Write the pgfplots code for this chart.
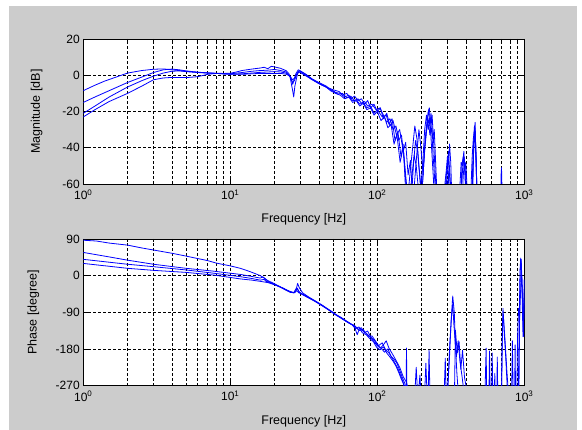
\documentclass[border=0pt]{standalone}
\usepackage{fontspec}
\setmainfont{Liberation Sans}
\usepackage{pgfplots}
\pgfplotsset{compat=1.18}
\definecolor{figgray}{RGB}{204,204,204}
\definecolor{mblue}{RGB}{0,0,255}
\pgfplotsset{
  bodestyle/.style={
    scale only axis, width=441pt,
    xmin=1, xmax=1000,
    xtick={1,10,100,1000},
    xticklabels={10\textsuperscript{0},10\textsuperscript{1},10\textsuperscript{2},10\textsuperscript{3}},
    minor xtick={2,3,4,5,6,7,8,9,20,30,40,50,60,70,80,90,200,300,400,500,600,700,800,900},
    axis background/.style={fill=white},
    axis line style={black, line width=0.6pt},
    tick align=inside, xtick pos=both, ytick pos=both,
    major tick length=5pt, minor tick length=3pt,
    tick style={black, line width=0.5pt},
    xmajorgrids=true, xminorgrids=true, ymajorgrids=true,
    major grid style={black, line width=0.5pt, dash pattern=on 2.5pt off 2.5pt},
    minor grid style={black, line width=0.5pt, dash pattern=on 2.5pt off 2.5pt},
    ticklabel style={font=\fontsize{12}{14}\selectfont, text=black},
    xticklabel style={yshift=-2pt},
    label style={font=\fontsize{12.5}{14}\selectfont, text=black},
    xlabel={Frequency [Hz]},
    no markers,
    every axis plot post/.append style={draw=mblue, mark=none, line width=0.8pt, line join=round},
  }
}
\begin{document}
\begin{tikzpicture}
\fill[white] (0pt,0pt) rectangle (582pt,430pt);
\fill[figgray] (9pt,0pt) rectangle (577pt,424pt);
% ---------------- Magnitude ----------------
\begin{axis}[xmode=log, bodestyle, at={(83.3pt,246pt)}, anchor=south west, height=145pt,
  ymin=-60, ymax=20, ytick={-60,-40,-20,0,20}, yticklabels={-60,-40,-20,0,20},
  ylabel={Magnitude [dB]},
  xlabel style={at={(axis description cs:0.5,-0.241)}, anchor=center},
  ylabel style={at={(axis description cs:-0.106,0.5)}, anchor=center},
]
\addplot coordinates {(1,-8.5) (1.2,-5.5) (1.4,-3.2) (1.7,-0.8) (2,1.2) (2.5,2.6) (3,3.3) (3.5,3.5) (4,3.0) (5,2.2) (6,1.6) (7,1.3) (8,1.1) (9,1.0) (10,1.1) (11,1.8) (12,2.6) (14,3.4) (16,4.0) (17,4.4) (18,3.6) (19,4.9) (20,4.6) (22,3.8) (24,2.5) (25,1) (26,-2.5) (26.6,-5) (27.2,-2) (28,1) (29,3) (30,2.4) (32,1) (35,-1.5) (40,-4.5) (45,-6.5) (50,-8) (55,-9) (58,-11) (62,-10) (66,-13) (70,-11.5) (74,-14) (78,-13) (82,-16) (86,-14) (90,-18) (95,-16) (100,-20) (105,-18) (110,-24) (116,-21) (122,-28) (128,-25) (135,-33) (142,-30) (150,-42) (156,-37) (162,-55) (168,-47) (175,-70) (185,-45) (192,-30) (198,-40) (205,-55) (212,-35) (218,-25) (224,-19) (228,-28) (232,-21) (238,-35) (244,-30) (250,-50) (256,-70) (270,-70) (290,-62) (300,-48) (305,-42) (312,-55) (320,-70) (370,-70) (380,-52) (390,-45) (400,-56) (410,-70) (440,-65) (450,-40) (458,-28) (465,-35) (472,-55) (480,-70) (1000,-70)};
\addplot coordinates {(1,-15) (1.2,-12) (1.5,-8.5) (2,-4) (2.5,-1) (3,1.5) (3.5,3) (4,3.4) (4.5,3.0) (5,2.4) (6,1.7) (7,1.3) (8,1.0) (10,0.8) (12,1.5) (14,2.2) (16,2.6) (18,2.8) (20,3.2) (22,2.6) (24,1.8) (25.5,-1) (26.5,-8) (27,-12) (27.5,-6) (28.5,0) (29.3,2.5) (30.5,1.8) (33,0.3) (36,-2) (40,-4) (45,-6) (48,-8) (52,-9.5) (56,-10) (60,-12) (64,-11) (68,-14) (72,-13.5) (76,-16) (80,-15) (85,-18) (90,-17) (95,-21) (100,-19) (108,-23) (115,-22) (120,-27) (126,-24) (132,-36) (138,-31) (145,-45) (150,-38) (155,-60) (160,-70) (168,-52) (174,-40) (180,-28) (186,-35) (192,-50) (198,-62) (205,-45) (210,-30) (216,-22) (222,-30) (228,-24) (234,-40) (240,-55) (246,-70) (280,-70) (295,-52) (300,-45) (306,-60) (320,-70) (360,-70) (372,-48) (380,-50) (388,-42) (396,-58) (405,-70) (435,-60) (442,-45) (450,-35) (458,-30) (463,-26) (468,-42) (475,-60) (482,-70) (690,-70) (695,-55) (700,-51) (705,-62) (712,-70) (1000,-70)};
\addplot coordinates {(1,-21) (1.2,-17) (1.5,-12) (2,-6.5) (2.5,-3) (3,-0.5) (3.5,1.2) (4,2.2) (4.5,2.4) (5,2.0) (6,1.5) (7,1.2) (8,1.0) (10,0.6) (12,0.8) (14,1.2) (16,1.6) (18,1.8) (20,2) (22,1.8) (24,1.2) (25.5,-0.5) (26.5,-4) (27.3,-3) (28.3,0.5) (29,2) (30,1.5) (33,-0.5) (36,-2.5) (40,-4.5) (44,-6) (48,-8.5) (52,-10) (56,-11) (60,-13) (64,-12) (68,-15) (72,-14) (76,-17) (80,-15.5) (85,-19) (90,-18) (95,-22) (100,-20) (106,-25) (112,-23) (118,-29) (124,-27) (130,-38) (136,-33) (143,-48) (150,-40) (156,-58) (162,-70) (170,-70) (176,-50) (182,-36) (188,-42) (194,-55) (200,-70) (206,-50) (212,-38) (218,-28) (222,-20) (226,-18) (230,-26) (236,-22) (242,-38) (250,-60) (256,-70) (290,-70) (298,-55) (304,-50) (310,-38) (316,-48) (322,-70) (370,-70) (376,-50) (384,-45) (392,-52) (400,-48) (408,-62) (415,-70) (445,-70) (452,-42) (460,-32) (466,-38) (472,-50) (478,-70) (1000,-70)};
\addplot coordinates {(1,-23) (1.2,-19) (1.5,-14.5) (2,-10) (2.5,-6) (3,-2.5) (3.5,-1.5) (4,-1.2) (5,-1.3) (6,-0.8) (7,0.5) (8,1) (10,0.5) (12,0.5) (14,0.8) (16,1) (18,1) (20,1) (22,1) (24,0.6) (25.5,-0.5) (26.5,-2.5) (27.5,-1.5) (28.5,1) (29.5,1.8) (31,1) (34,-1) (38,-3.5) (42,-5.5) (46,-7) (50,-8.5) (54,-10.5) (58,-10) (62,-12.5) (66,-11.5) (70,-14) (74,-13) (78,-15.5) (82,-14.5) (86,-17) (92,-16) (98,-19) (104,-18) (110,-22) (116,-26) (122,-24) (128,-30) (134,-28) (140,-36) (146,-33) (152,-45) (158,-60) (164,-70) (172,-56) (178,-44) (184,-50) (190,-62) (196,-70) (204,-58) (210,-40) (216,-30) (222,-24) (228,-33) (234,-29) (240,-45) (246,-58) (252,-70) (296,-70) (302,-58) (308,-52) (314,-62) (322,-70) (378,-70) (384,-56) (390,-49) (396,-54) (402,-70) (440,-70) (448,-50) (456,-36) (462,-29) (470,-45) (476,-70) (1000,-70)};
\end{axis}
% ---------------- Phase ----------------
\begin{axis}[xmode=log, bodestyle, at={(83.3pt,44.4pt)}, anchor=south west, height=146.6pt,
  ymin=-270, ymax=90, ytick={-270,-180,-90,0,90}, yticklabels={-270,-180,-90,0,90},
  ylabel={Phase [degree]},
  xlabel style={at={(axis description cs:0.5,-0.24)}, anchor=center},
  ylabel style={at={(axis description cs:-0.1134,0.5)}, anchor=center},
]
\addplot coordinates {(1,87) (1.23,85) (1.5,80) (2,75) (2.5,68) (3,63) (4,55) (5,48) (6,42) (7,37) (8,31) (10,24) (11.7,18) (13.6,10) (15,4) (16,0) (17,-6) (18,-12) (20,-20) (22,-28) (24,-35) (25.5,-40) (27,-42) (28,-36) (28.7,-19) (29.5,-30) (31,-42) (34,-52) (37,-60) (42,-72) (47,-84) (52,-95) (57,-103) (62,-112) (66,-118) (70,-125) (73,-145) (76,-128) (80,-136) (85,-143) (90,-152) (95,-162) (100,-172) (105,-178) (110,-170) (115,-160) (120,-178) (128,-195) (135,-210) (142,-225) (150,-248) (158,-262) (165,-290) (300,-290) (310,-200) (318,-110) (326,-50) (334,-90) (340,-170) (348,-240) (356,-290) (700,-290) (708,-150) (716,-80) (724,-110) (740,-160) (760,-230) (780,-290) (910,-290) (925,-100) (935,10) (945,43) (955,30) (970,-40) (985,-120) (1000,-60)};
\addplot coordinates {(1,57) (1.5,46) (2,38) (3,28) (5,18) (7.7,11) (11.7,3) (14,-2) (16,-6) (16.7,-3) (17.5,-10) (18,-14) (20,-22) (22,-29) (24,-36) (25.5,-41) (27,-42) (28.2,-30) (29,-37) (30,-44) (33,-52) (37,-61) (42,-73) (47,-85) (52,-96) (57,-104) (62,-113) (66,-119) (70,-122) (74,-132) (78,-128) (82,-140) (86,-136) (90,-150) (96,-160) (100,-170) (106,-178) (112,-188) (118,-180) (124,-198) (130,-205) (136,-215) (142,-232) (148,-250) (154,-265) (158,-278) (160,-290) (190,-290) (195,-244) (198,-290) (285,-290) (290,-203) (294,-290) (335,-290) (340,-134) (350,-190) (360,-162) (370,-230) (380,-183) (392,-250) (410,-290) (540,-290) (550,-178) (555,-290) (575,-290) (580,-185) (585,-290) (625,-290) (630,-240) (634,-290) (860,-290) (866,-170) (872,-290) (890,-290) (900,-150) (915,-80) (930,-100) (948,-20) (960,2) (975,-60) (990,-150) (1000,-10)};
\addplot coordinates {(1,40) (1.5,33) (2,28) (3,22) (5,14) (7.7,6) (11.7,-2.5) (14,-7) (16,-11) (17,-9) (17.5,-14) (19,-19) (21,-25) (23,-31) (25,-38) (27,-42) (28.4,-37) (29.2,-42) (31,-45) (34,-53) (38,-63) (43,-75) (48,-86) (53,-97) (58,-106) (63,-114) (67,-120) (71,-130) (75,-126) (79,-140) (84,-145) (89,-155) (94,-162) (99,-176) (104,-182) (110,-175) (116,-190) (122,-200) (128,-210) (134,-222) (140,-238) (146,-255) (152,-268) (156,-290) (157,-290) (158,-178) (159,-290) (222,-290) (225,-183) (228,-290) (300,-290) (312,-160) (320,-100) (326,-70) (332,-120) (345,-200) (355,-160) (365,-210) (378,-250) (390,-290) (700,-290) (712,-110) (720,-95) (730,-140) (745,-190) (770,-290) (920,-290) (932,-50) (942,30) (952,40) (962,-20) (980,-150) (995,-60) (1000,-10)};
\addplot coordinates {(1,30) (1.5,23) (2,18) (3,13) (5,8) (7.7,1.5) (11.7,-8) (14,-11) (16,-14) (18,-17) (20,-22) (22,-28) (24,-35) (26,-40) (27.5,-42) (28.6,-31) (29.4,-40) (31,-46) (34,-54) (38,-64) (43,-76) (48,-87) (53,-98) (58,-107) (63,-115) (68,-121) (72,-128) (76,-135) (80,-132) (84,-142) (88,-150) (92,-148) (97,-160) (102,-172) (108,-165) (114,-182) (120,-190) (126,-202) (132,-215) (138,-228) (144,-245) (150,-262) (155,-290) (180,-290) (184,-225) (188,-290) (210,-290) (214,-215) (218,-290) (600,-290) (605,-190) (610,-290) (650,-290) (655,-200) (660,-290) (820,-290) (830,-160) (840,-290) (1000,-290)};
\end{axis}
\end{tikzpicture}
\end{document}
